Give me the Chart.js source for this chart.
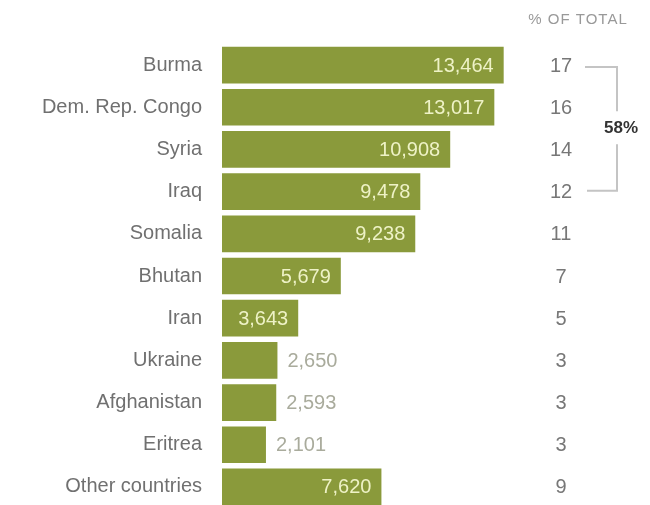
<!DOCTYPE html>
<html>
<head>
<meta charset="utf-8">
<script src="https://cdn.jsdelivr.net/npm/chart.js@4/dist/chart.umd.min.js"></script>
<style>
  html, body { margin: 0; padding: 0; background: #fff; overflow: hidden; }
  #wrap { width: 650px; height: 540px; position: relative; }
</style>
</head>
<body>
<div id="wrap"><canvas id="myChart"></canvas></div>
<script>
const categories = ['Burma', 'Dem. Rep. Congo', 'Syria', 'Iraq', 'Somalia', 'Bhutan', 'Iran', 'Ukraine', 'Afghanistan', 'Eritrea', 'Other countries']
const refugees = [13464, 13017, 10908, 9478, 9238, 5679, 3643, 2650, 2593, 2101, 7620]
const shareOfTotal = [17, 16, 14, 12, 11, 7, 5, 3, 3, 3, 9]
const shareHeader = '% OF TOTAL'
const topFourShare = '58%'

const barColor = '#8a9a3b'
const fontFamily = '"Liberation Sans", Arial, sans-serif'

// value labels inside long bars, beside short ones
const valueLabels = {
    id: 'valueLabels',
    afterDatasetsDraw(chart) {
        const ctx = chart.ctx
        const meta = chart.getDatasetMeta(0)
        ctx.save()
        ctx.font = '20px ' + fontFamily
        ctx.textBaseline = 'middle'
        meta.data.forEach((bar, i) => {
            const txt = refugees[i].toLocaleString('en-US')
            const w = ctx.measureText(txt).width
            const len = bar.x - bar.base
            if (len > w + 20) {
                ctx.fillStyle = '#eef2c6'
                ctx.textAlign = 'right'
                ctx.fillText(txt, bar.x - 10, bar.y + 1)
            } else {
                ctx.fillStyle = '#a9ab9c'
                ctx.textAlign = 'left'
                ctx.fillText(txt, bar.x + 10, bar.y + 1)
            }
        })
        ctx.restore()
    }
}

// right hand column: share of total and bracket for top four
const shareColumn = {
    id: 'shareColumn',
    afterDraw(chart) {
        const ctx = chart.ctx
        const y = chart.scales.y
        ctx.save()
        ctx.fillStyle = '#999'
        ctx.font = '15px ' + fontFamily
        ctx.letterSpacing = '1px'
        ctx.textAlign = 'center'
        ctx.textBaseline = 'middle'
        ctx.fillText(shareHeader, 578, 20)
        ctx.letterSpacing = '0px'

        ctx.fillStyle = '#777'
        ctx.font = '20px ' + fontFamily
        shareOfTotal.forEach((v, i) => {
            ctx.fillText(String(v), 561, y.getPixelForValue(i) + 1)
        })

        const top = y.getPixelForValue(0) + 2
        const bottom = y.getPixelForValue(3) - 1
        const mid = (y.getPixelForValue(1) + y.getPixelForValue(2)) / 2
        ctx.strokeStyle = '#c4c4c4'
        ctx.lineWidth = 2
        ctx.beginPath()
        ctx.moveTo(585, top)
        ctx.lineTo(617, top)
        ctx.lineTo(617, mid - 17)
        ctx.moveTo(617, mid + 16)
        ctx.lineTo(617, bottom)
        ctx.lineTo(587, bottom)
        ctx.stroke()

        ctx.fillStyle = '#333'
        ctx.font = 'bold 17px ' + fontFamily
        ctx.fillText(topFourShare, 621, mid)
        ctx.restore()
    }
}

const ctx = document.getElementById('myChart').getContext('2d')
const myChart = new Chart(ctx, {
    type: 'bar',
    data: {
        labels: categories,
        datasets: [{
            data: refugees,
            backgroundColor: barColor,
            borderWidth: 0,
            barPercentage: 0.87,
            categoryPercentage: 1
        }]
    },
    options: {
        indexAxis: 'y',
        responsive: true,
        maintainAspectRatio: false,
        animation: false,
        layout: {
            padding: { top: 44, right: 110, bottom: 0, left: 0 }
        },
        plugins: {
            legend: { display: false },
            tooltip: { enabled: false }
        },
        scales: {
            x: {
                display: false,
                min: 0,
                max: 15200
            },
            y: {
                grid: { display: false, drawTicks: false },
                border: { display: false },
                ticks: {
                    color: '#707070',
                    font: { family: fontFamily, size: 20 },
                    padding: 20
                },
                afterFit(scale) {
                    scale.width = 222
                }
            }
        }
    },
    plugins: [valueLabels, shareColumn]
})
</script>
</body>
</html>
